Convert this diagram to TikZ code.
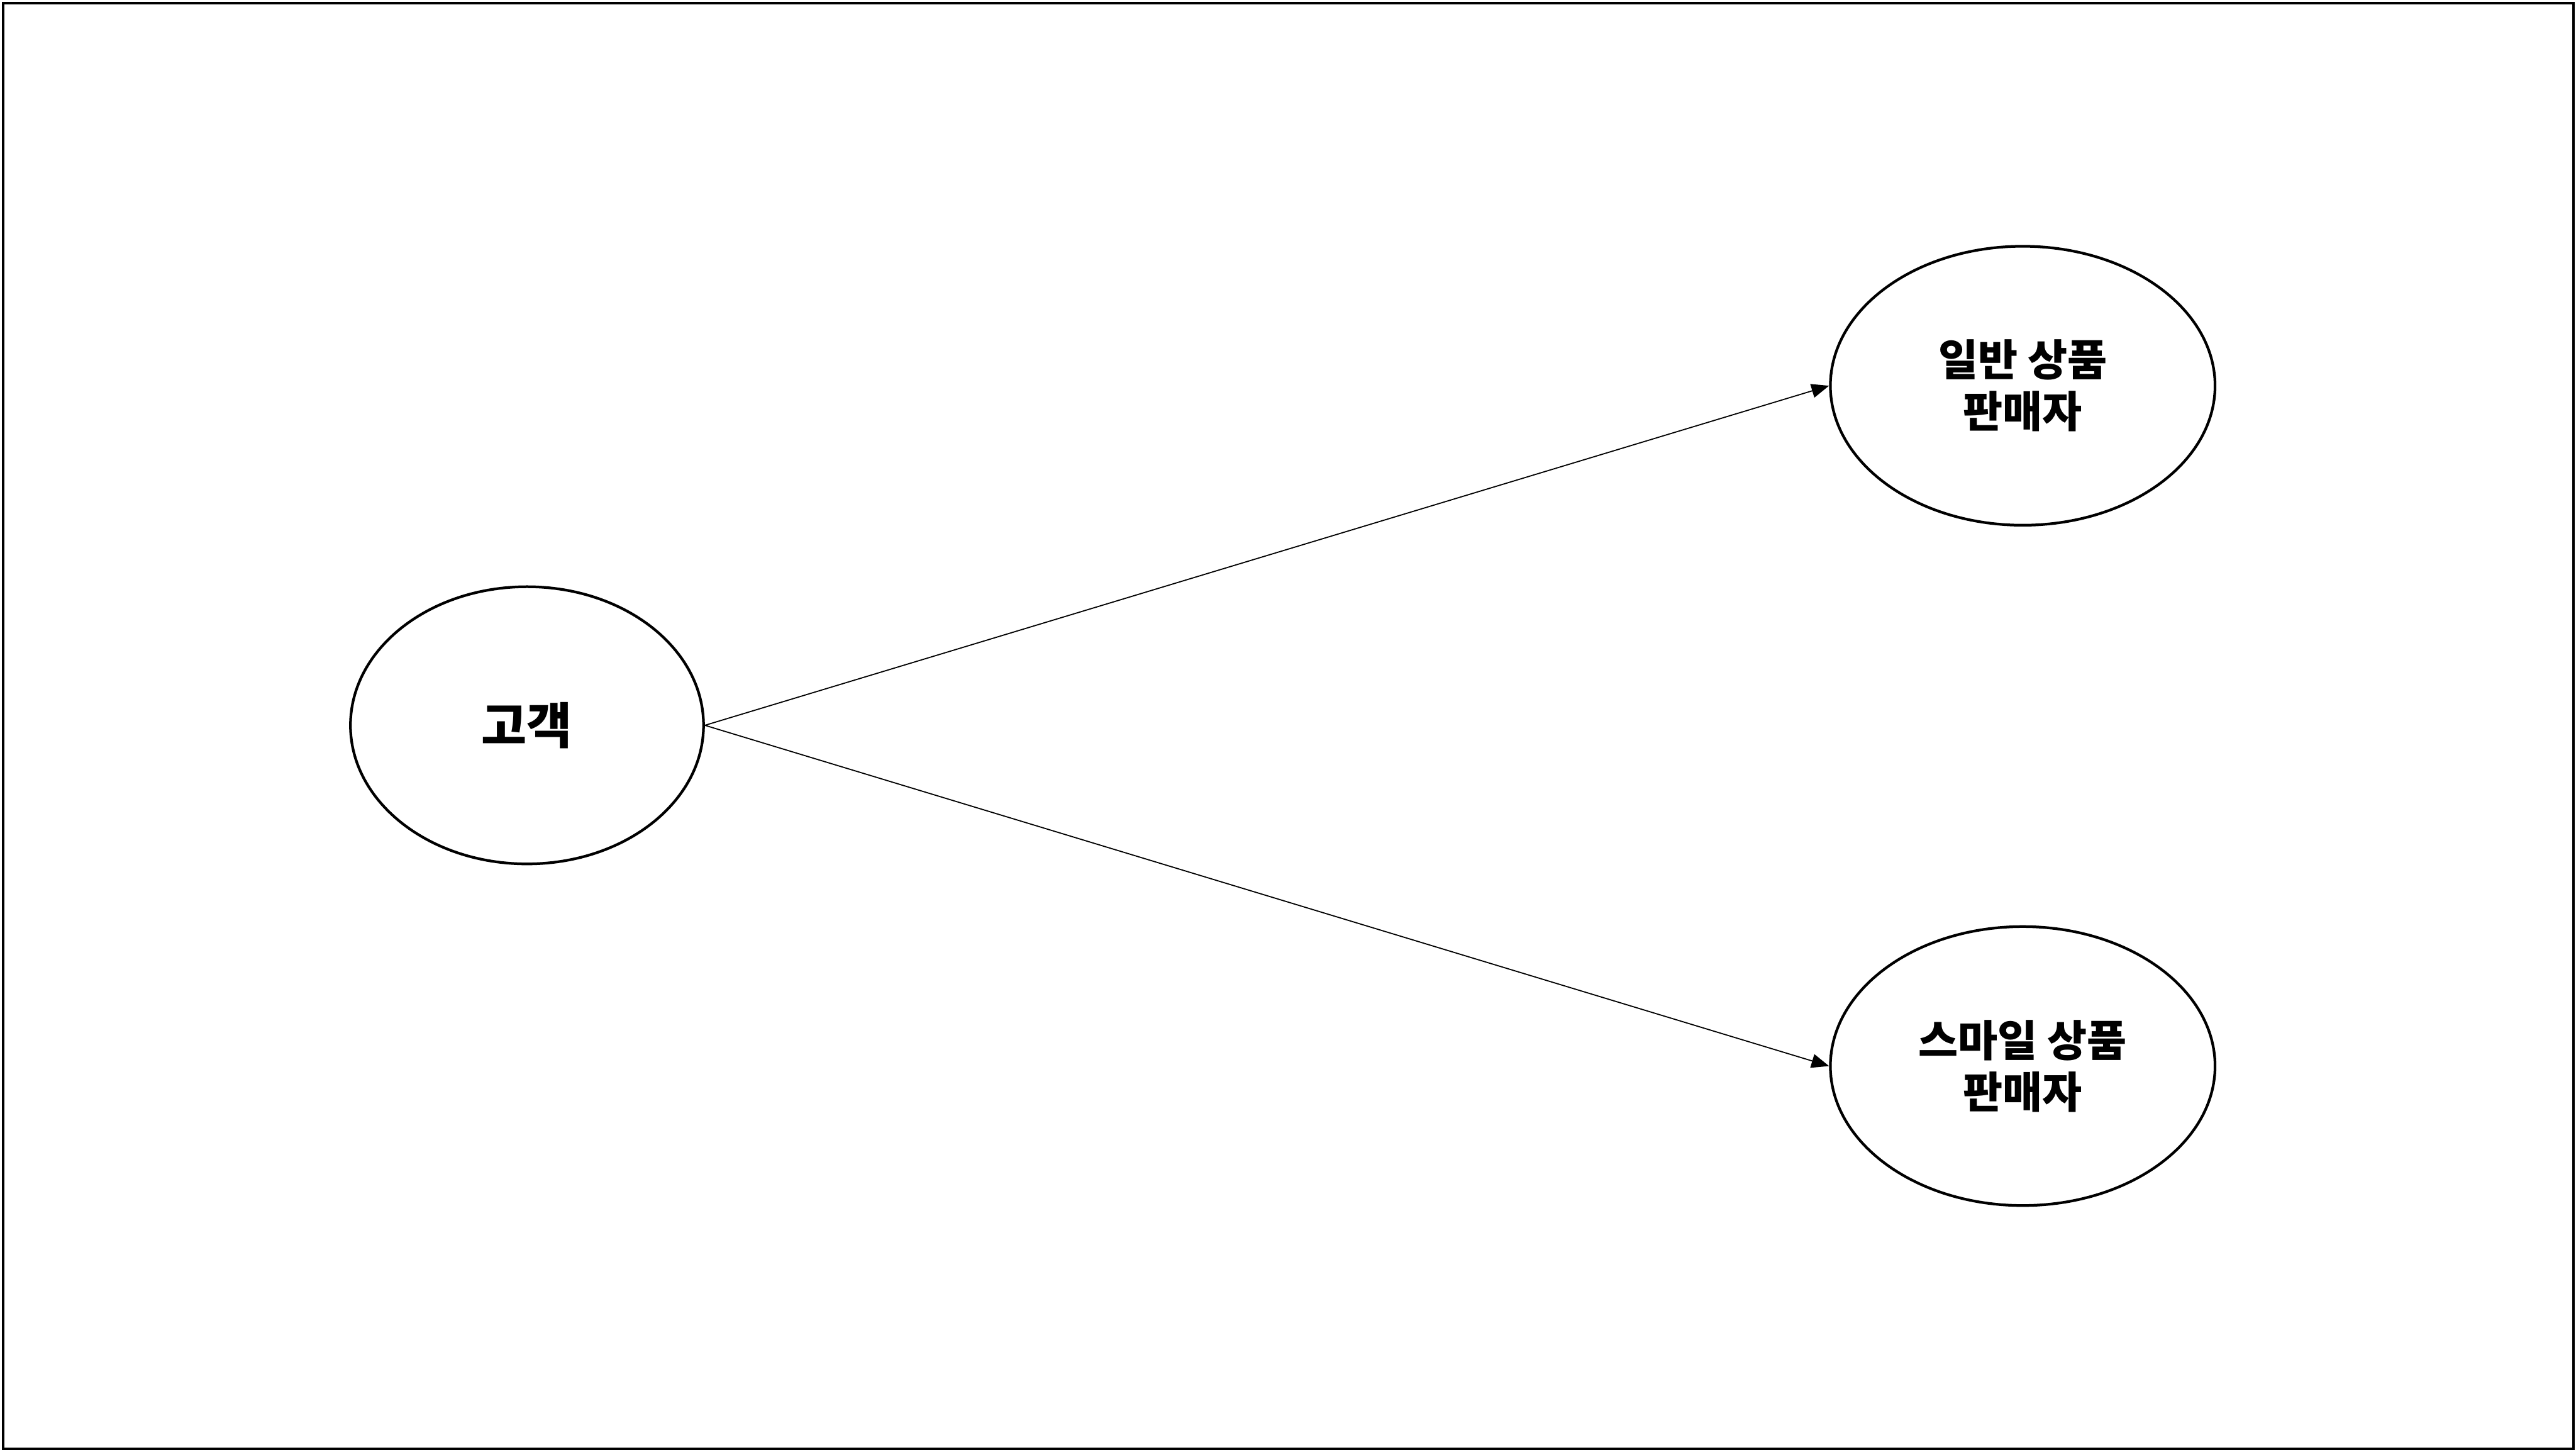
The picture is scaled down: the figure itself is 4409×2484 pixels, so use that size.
\documentclass[tikz,border=0pt]{standalone}
\usepackage{fontspec}
\setmainfont{Noto Sans CJK KR}
\usetikzlibrary{arrows.meta,shapes.geometric}
\tikzset{
  px/.style={x=0.01cm,y=-0.01cm},
  actor/.style={draw=black,line width=1.3pt,ellipse,fill=white,inner sep=0pt,align=center,font=\bfseries},
  link/.style={draw=black,line width=0.55pt,-{Triangle[length=0.3cm,width=0.24cm]}},
}
\begin{document}
\begin{tikzpicture}[px]
\useasboundingbox (0,0) rectangle (4409,2484);
\draw[line width=1.3pt] (5,5) rectangle (4405,2479);
\node[actor,minimum width=6.04cm,minimum height=4.74cm,font=\fontsize{24}{29}\selectfont\bfseries] (cust) at (902,1241) {고객};
\node[actor,minimum width=6.58cm,minimum height=4.77cm,font=\fontsize{21}{25}\selectfont\bfseries] (gen) at (3462,660) {일반 상품\\판매자};
\node[actor,minimum width=6.58cm,minimum height=4.77cm,font=\fontsize{21}{25}\selectfont\bfseries] (smile) at (3462,1824) {스마일 상품\\판매자};
\draw[link] (cust.east) -- (gen.west);
\draw[link] (cust.east) -- (smile.west);
\end{tikzpicture}
\end{document}
